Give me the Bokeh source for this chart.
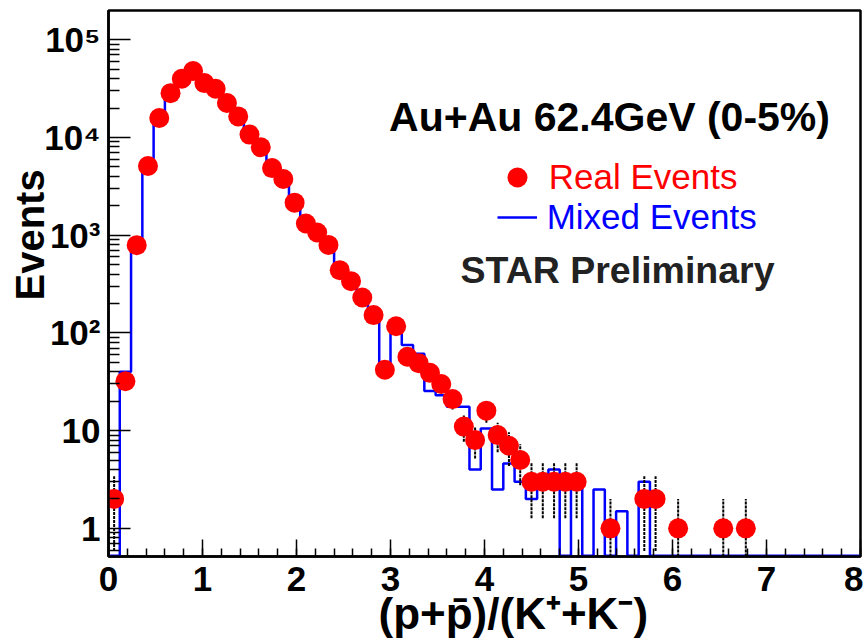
import math
from bokeh.plotting import figure
from bokeh.models import (Range1d, FixedTicker, CustomJSTickFormatter, Title,
                          Label, Legend, LegendItem, ColumnDataSource)
from bokeh.embed import file_html
from bokeh.resources import INLINE

# ---------------- data ----------------
BIN_WIDTH = 0.12  # histogram bin width in (p+pbar)/(K+ + K-)

# counts per bin, bin k spans [k*0.12, (k+1)*0.12]
real_events = [2, 32, 790, 5100, 15800, 28400, 39900, 47700, 36000, 31500,
               22500, 16400, 10700, 7930, 4860, 3760, 2150, 1315, 1064, 795,
               438, 338, 230, 152, 42, 117, 57, 49, 39, 30,
               21, 11, 8, 16, 9, 7, 5, 3, 3, 3,
               3, 3, 0, 0, 1, 0, 0, 2, 2, 0,
               1, 0, 0, 0, 1, 0, 1, 0, 0, 0,
               0, 0, 0, 0, 0, 0, 0]

mixed_events = [0, 40, 800, 5000, 16500, 29000, 40000, 46500, 37500, 31000,
                23000, 16000, 11000, 7700, 5000, 3600, 2200, 1400, 1000, 760,
                470, 330, 225, 150, 46, 98, 75, 61, 25.5, 23,
                17.5, 17.5, 4, 10.5, 2.5, 4.6, 3, 2, 3, 4,
                0, 3, 0, 2.5, 0, 1.5, 0, 3, 0, 0,
                0, 0, 0, 0, 0, 0, 0, 0, 0, 0,
                0, 0, 0, 0, 0, 0, 0]

x_ticks = [0, 1, 2, 3, 4, 5, 6, 7, 8]
y_ticks = [1, 10, 100, 1000, 10000, 100000]
y_tick_labels = ["1", "10", "10\u00b2", "10\u00b3", "10\u2074", "10\u2075"]

X_RANGE = (0, 8)
Y_RANGE = (0.515, 1.99e5)

FONT = "Liberation Sans"

# ---------------- figure ----------------
p = figure(width=863, height=642, x_range=Range1d(*X_RANGE), y_range=Range1d(*Y_RANGE),
           y_axis_type="log", output_backend="svg", toolbar_location=None,
           min_border_left=108, min_border_right=3, min_border_top=10, min_border_bottom=86)
p.background_fill_color = "white"
p.border_fill_color = "white"
p.outline_line_color = "black"
p.outline_line_width = 2.5
p.xgrid.visible = False
p.ygrid.visible = False

# x axis
xa = p.xaxis[0]
xa.ticker = FixedTicker(ticks=x_ticks,
                        minor_ticks=[i * 0.2 for i in range(0, 41)])
xa.axis_line_width = 2.5
xa.major_tick_in = 17
xa.major_tick_out = 0
xa.minor_tick_in = 8
xa.minor_tick_out = 0
xa.major_tick_line_width = 1.5
xa.minor_tick_line_width = 1.5
xa.major_label_text_font = FONT
xa.major_label_text_font_style = "bold"
xa.major_label_text_font_size = "35px"
xa.major_label_text_color = "black"
xa.major_label_standoff = 10

# y axis
ya = p.yaxis[0]
minor_y = [m * 10 ** e for e in range(-1, 6) for m in range(2, 10)]
ya.ticker = FixedTicker(ticks=y_ticks, minor_ticks=minor_y)
ya.formatter = CustomJSTickFormatter(args=dict(tvals=y_ticks, tlabs=y_tick_labels), code="""
    for (let i = 0; i < tvals.length; i++) {
        if (Math.abs(Math.log10(tvals[i]) - Math.log10(tick)) < 1e-6) { return tlabs[i]; }
    }
    return "";
""")
ya.axis_line_width = 2.5
ya.major_tick_in = 22
ya.major_tick_out = 0
ya.minor_tick_in = 11
ya.minor_tick_out = 0
ya.major_tick_line_width = 1.5
ya.minor_tick_line_width = 1.5
ya.major_label_text_font = FONT
ya.major_label_text_font_style = "bold"
ya.major_label_text_font_size = "35px"
ya.major_label_text_color = "black"
ya.major_label_standoff = 8

# ---------------- axis titles (side panels) ----------------
def make_title(text, size, offset, standoff):
    try:
        t = Title(text=text, align="left", offset=offset, standoff=standoff,
                  vertical_align="bottom")
    except Exception:
        t = Title(text=text, align="left", offset=offset, standoff=0,
                  vertical_align="bottom")
    t.text_font = FONT
    t.text_font_style = "bold"
    t.text_font_size = size
    t.text_color = "black"
    return t

p.add_layout(make_title("Events", "40px", 256, -20), "left")
p.add_layout(make_title("(p+p\u0304)/(K\u207a+K\u207b)", "44px", 270, -14), "below")

# ---------------- mixed events: step histogram ----------------
floor = Y_RANGE[0] * 1.02
step_x, step_y = [], []
for k, v in enumerate(mixed_events):
    yv = v if v > 0 else floor
    step_x += [k * BIN_WIDTH, (k + 1) * BIN_WIDTH]
    step_y += [yv, yv]
r_mixed = p.line(step_x, step_y, line_color="blue", line_width=2.5)

# ---------------- real events: points with sqrt(N) errors ----------------
px, py, lo, hi = [], [], [], []
for k, v in enumerate(real_events):
    if v > 0:
        px.append((k + 0.5) * BIN_WIDTH)
        py.append(v)
        e = math.sqrt(v)
        lo.append(max(v - e, Y_RANGE[0]))
        hi.append(v + e)
src = ColumnDataSource(dict(x=px, y=py, lo=lo, hi=hi))
p.segment(x0="x", y0="lo", x1="x", y1="hi", source=src, line_color="black",
          line_width=2, line_dash="3 1")
r_real = p.scatter(x="x", y="y", source=src, size=20, marker="circle",
                   fill_color="red", line_color=None)

# ---------------- legends ----------------
leg1 = Legend(items=[LegendItem(label="Real Events", renderers=[r_real])],
              location=(383.7, 354.3), orientation="vertical",
              glyph_width=50, glyph_height=50, label_height=50, label_standoff=7,
              padding=0, margin=0, spacing=0,
              border_line_alpha=0, background_fill_alpha=0,
              label_text_color="red", label_text_font=FONT,
              label_text_font_size="35px")
leg2 = Legend(items=[LegendItem(label="Mixed Events", renderers=[r_mixed])],
              location=(388.7, 319.3), orientation="vertical",
              glyph_width=40, glyph_height=40, label_height=40, label_standoff=10,
              padding=0, margin=0, spacing=0,
              border_line_alpha=0, background_fill_alpha=0,
              label_text_color="blue", label_text_font=FONT,
              label_text_font_size="35px")
p.add_layout(leg1)
p.add_layout(leg2)

# ---------------- texts inside the frame ----------------
p.add_layout(Label(x=2.985, y=16200, text="Au+Au 62.4GeV (0-5%)",
                   text_font=FONT, text_font_style="bold", text_font_size="41px",
                   text_color="black", text_align="left", text_baseline="alphabetic"))
p.add_layout(Label(x=3.745, y=440, text="STAR Preliminary",
                   text_font=FONT, text_font_style="bold", text_font_size="37.5px",
                   text_color="#222222", text_align="left", text_baseline="alphabetic"))

open("out.html", "w").write(file_html(p, INLINE))
